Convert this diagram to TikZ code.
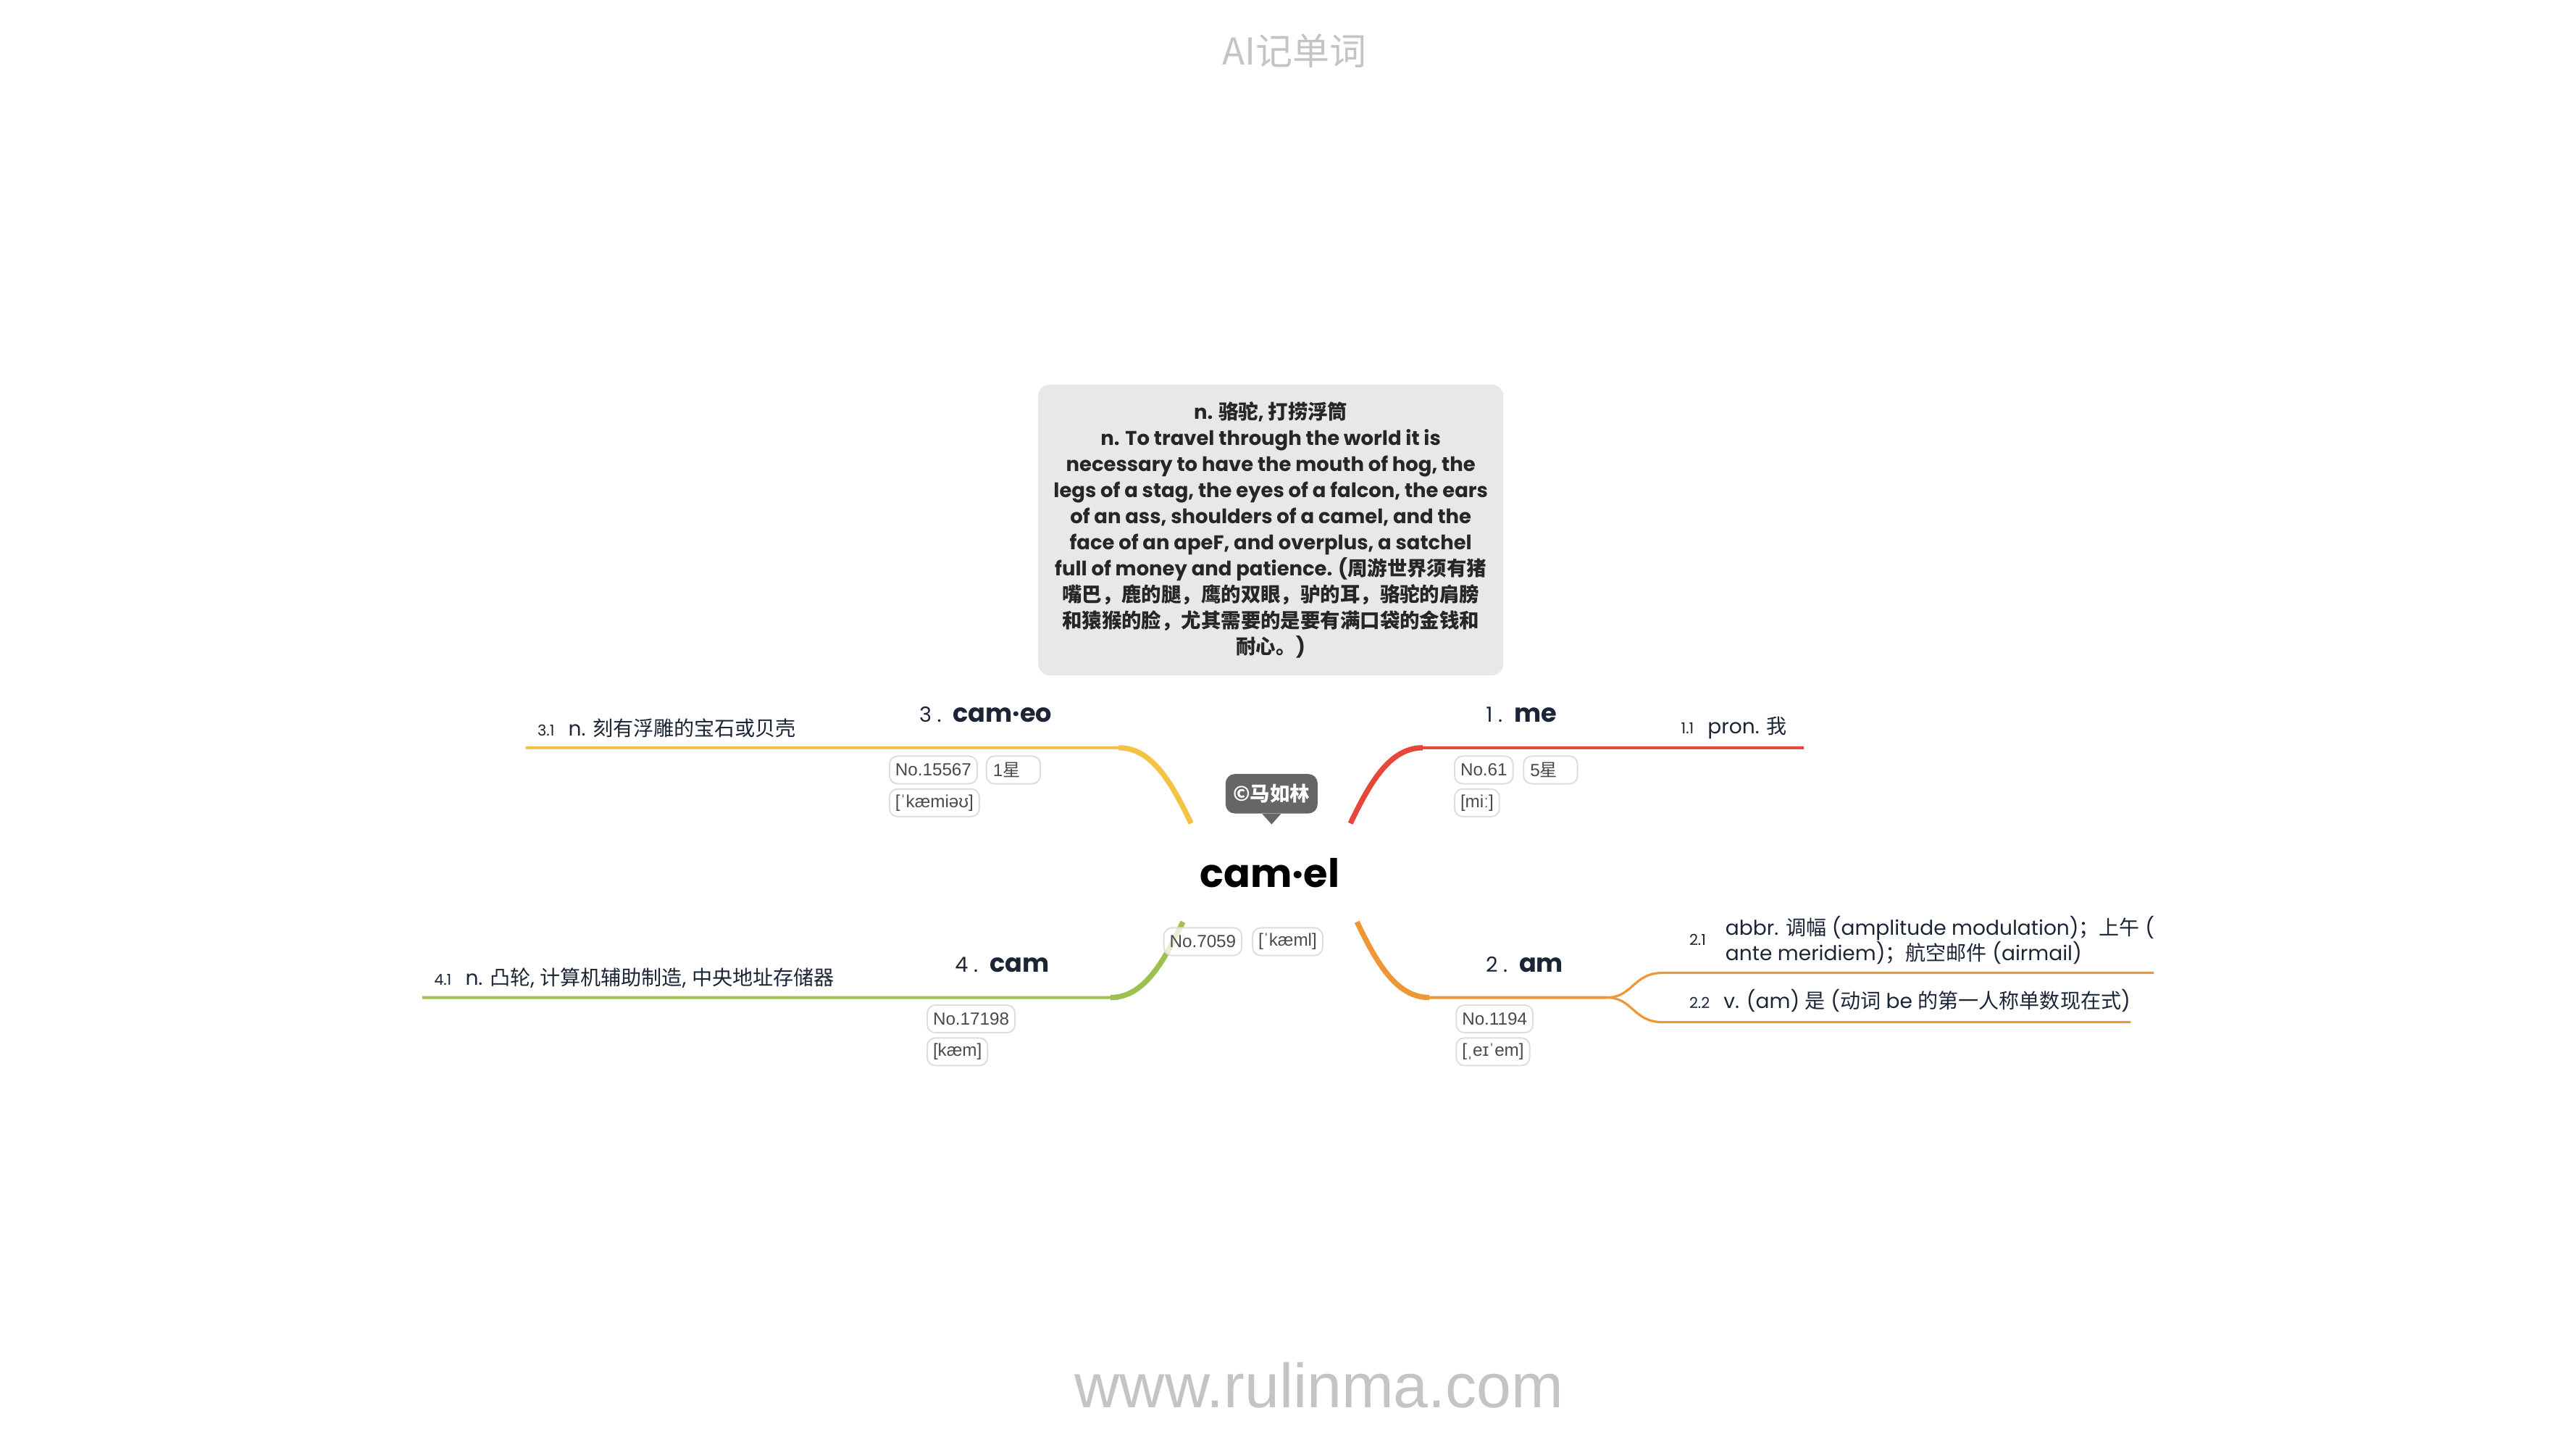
\documentclass[tikz,border=0pt]{standalone}
\usepackage{fontspec}
\setmainfont{Poppins}
\newfontfamily\cjk{Noto Sans CJK SC}
\newfontfamily\arial{Liberation Sans}
\newcommand\zh[1]{{\cjk #1}}
\newcommand\subno[1]{{\fontsize{6.5}{6.5}\selectfont #1}\hspace{6pt}}
\newcommand\headno[1]{{\fontsize{9}{9}\selectfont\mdseries #1 .}\hspace{5pt}}
\usetikzlibrary{positioning}

\definecolor{meRed}{HTML}{E5473A}
\definecolor{cameoYellow}{HTML}{F5C344}
\definecolor{camGreen}{HTML}{9DC04F}
\definecolor{amOrange}{HTML}{EF9737}
\definecolor{boxGray}{HTML}{E8E8E8}
\definecolor{tipGray}{HTML}{666666}
\definecolor{inkNavy}{HTML}{1B2535}
\definecolor{badgeLine}{HTML}{DDDDDD}
\definecolor{badgeText}{HTML}{4A4A4A}
\definecolor{waterGray}{HTML}{C4C4C4}

\begin{document}
\begin{tikzpicture}[x=0.025cm,y=-0.025cm,
  branch/.style={line width=2.3pt},
  twig/.style={line width=1.3pt},
  fork/.style={line width=1pt},
  badge/.style={draw=badgeLine,fill=white,fill opacity=0.75,text opacity=1,
    rounded corners=3.5pt,line width=0.6pt,text=badgeText,
    font=\arial\fontsize{7.6}{8}\selectfont,inner xsep=2.5pt,inner ysep=0pt,
    minimum height=0.42cm,anchor=west},
  headword/.style={text=inkNavy,font=\fontsize{11}{11}\selectfont\bfseries},
  gloss/.style={text=inkNavy,font=\fontsize{8.8}{11}\selectfont,anchor=west,
    inner sep=0pt,align=left}]
\useasboundingbox (0,0) rectangle (1568,882);
\fill[white] (0,0) rectangle (1568,882);

% title and site
\node[text=waterGray,font=\cjk\fontsize{16}{16}\selectfont] (title) at (788,31) {AI记单词};
\node[text=waterGray,font=\arial\fontsize{27}{27}\selectfont] (site) at (803,843) {www.rulinma.com};

% definition box
\node[fill=boxGray,rounded corners=5pt,minimum width=7.075cm,minimum height=4.425cm,
  align=center,text=black!85,font=\fontsize{8.6}{11.3}\selectfont\bfseries] (def) at (773.5,322.5)
  {n. \zh{骆驼}, \zh{打捞浮筒}\\
   n. To travel through the world it is\\
   necessary to have the mouth of hog, the\\
   legs of a stag, the eyes of a falcon, the ears\\
   of an ass, shoulders of a camel, and the\\
   face of an apeF, and overplus, a satchel\\
   full of money and patience. (\zh{周游世界须有猪}\\
   \zh{嘴巴，鹿的腿，鹰的双眼，驴的耳，骆驼的肩膀}\\
   \zh{和猿猴的脸，尤其需要的是要有满口袋的金钱和}\\
   \zh{耐心。})};

% branch ends
\coordinate (r0) at (822,501); \coordinate (r1) at (866,455); \coordinate (r2) at (1098,455);
\coordinate (y0) at (725,501); \coordinate (y1) at (681,455); \coordinate (y2) at (320,455);
\coordinate (g0) at (720,561); \coordinate (g1) at (676,607); \coordinate (g2) at (257,607);
\coordinate (o0) at (826,561); \coordinate (o1) at (870,607); \coordinate (o2) at (978,607);
\coordinate (o3) at (1012,592); \coordinate (o4) at (1311,592);
\coordinate (o5) at (1012,622); \coordinate (o6) at (1297,622);

% branches
\draw[twig,meRed] (r0) .. controls (834,476) and (846,455) .. (r1) -- (r2);
\draw[branch,meRed] (r0) .. controls (834,476) and (846,455) .. (r1);
\draw[twig,cameoYellow] (y0) .. controls (713,476) and (701,455) .. (y1) -- (y2);
\draw[branch,cameoYellow] (y0) .. controls (713,476) and (701,455) .. (y1);
\draw[twig,camGreen] (g0) .. controls (708,586) and (696,607) .. (g1) -- (g2);
\draw[branch,camGreen] (g0) .. controls (708,586) and (696,607) .. (g1);
\draw[twig,amOrange] (o0) .. controls (838,586) and (850,607) .. (o1) -- (o2);
\draw[branch,amOrange] (o0) .. controls (838,586) and (850,607) .. (o1);
\draw[fork,amOrange] (o2) .. controls (994,607) and (994,592) .. (o3) -- (o4);
\draw[fork,amOrange] (o2) .. controls (994,607) and (994,622) .. (o5) -- (o6);

% centre word
\node[font=\fontsize{17}{17}\selectfont\bfseries] (camel) at (773,531) {cam·el};
\node[badge] (noCamel) at (708,573) {No.7059};
\node[badge] (ipaCamel) at (762,573) {[ˈkæml]};

% copyright tip
\node[fill=tipGray,rounded corners=4pt,text=white,minimum width=1.4cm,minimum height=0.6cm,
  inner sep=0pt,font=\cjk\fontsize{8.6}{9}\selectfont\bfseries] (tip) at (774,483) {©马如林};
\fill[tipGray] ([xshift=-4pt]tip.south) -- ([xshift=4pt]tip.south) -- ([yshift=-4.5pt]tip.south) -- cycle;

% 1. me
\node[headword] (me) at (926,435) {\headno{1}me};
\node[badge] (noMe) at (885,468.5) {No.61};
\node[badge,minimum width=0.82cm,align=left,text width=0.62cm] (starMe) at (927,468.5) {5\zh{星}};
\node[badge] (ipaMe) at (885,488.5) {[miː]};
\node[gloss] (glossMe) at (1023,443) {\subno{1.1}pron. \zh{我}};

% 3. cam·eo
\node[headword] (cameo) at (600,435) {\headno{3}cam·eo};
\node[badge] (noCameo) at (541,468.5) {No.15567};
\node[badge,minimum width=0.82cm,align=left,text width=0.62cm] (starCameo) at (600,468.5) {1\zh{星}};
\node[badge] (ipaCameo) at (541,488.5) {[ˈkæmiəʊ]};
\node[gloss] (glossCameo) at (327,443) {\subno{3.1}n. \zh{刻有浮雕的宝石或贝壳}};

% 4. cam
\node[headword] (cam) at (610,587) {\headno{4}cam};
\node[badge] (noCam) at (564,620) {No.17198};
\node[badge] (ipaCam) at (564,640) {[kæm]};
\node[gloss] (glossCam) at (264,595) {\subno{4.1}n. \zh{凸轮}, \zh{计算机辅助制造}, \zh{中央地址存储器}};

% 2. am
\node[headword] (am) at (928,587) {\headno{2}am};
\node[badge] (noAm) at (886,620) {No.1194};
\node[badge] (ipaAm) at (886,640) {[ˌeɪˈem]};
\node[gloss] (numAmA) at (1028,572) {\subno{2.1}};
\node[gloss] (glossAmA) at (1050,572) {abbr. \zh{调幅} (amplitude modulation)\zh{；上午} (\\ante meridiem)\zh{；航空邮件} (airmail)};
\node[gloss] (glossAmB) at (1028,609) {\subno{2.2}v. (am) \zh{是} (\zh{动词} be \zh{的第一人称单数现在式})};

\end{tikzpicture}
\end{document}
